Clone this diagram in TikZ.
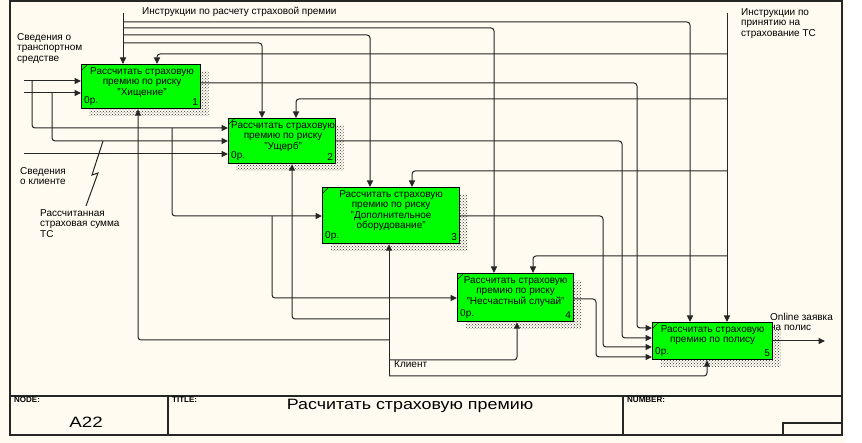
\documentclass[tikz,border=0pt]{standalone}
\usepackage{fontspec}
\setmainfont{Liberation Sans}
\usetikzlibrary{arrows.meta,calc,patterns,shadows}
\definecolor{paper}{RGB}{255,251,240}
\definecolor{idefgreen}{RGB}{0,255,0}
\begin{document}
\begin{tikzpicture}[x=1pt,y=-1pt,
  font=\fontsize{10}{10.5}\selectfont,
  ln/.style={line width=1pt, draw=black!85},
  arr/.style={ln, -{Triangle[length=6.5pt,width=6pt]}},
  rc/.style={rounded corners=3pt},
  box/.style={draw=black, line width=1.2pt, fill=idefgreen, inner sep=0pt, anchor=north west,
    general shadow={shadow xshift=8pt, shadow yshift=-7pt, pattern=crosshatch dots, pattern color=black!80}},
  btext/.style={anchor=north, align=center, inner sep=0pt},
  lbl/.style={align=left, inner sep=0pt, anchor=north west},
  small/.style={font=\fontsize{8}{9}\selectfont\bfseries, inner sep=0pt, anchor=west},
  big/.style={font=\fontsize{15}{16}\selectfont, inner sep=0pt}
]
\useasboundingbox (0,0) rectangle (862,443);
\fill[white] (0,0) rectangle (862,443);
\fill[paper] (0,0) rectangle (845,443);
% frame
\draw[line width=1.2pt, black!85] (10,1) rectangle (842,435);
\draw[line width=1.2pt, black!85] (10,396) -- (842,396);
\draw[line width=1.2pt, black!85] (168,396) -- (168,435);
\draw[line width=1.2pt, black!85] (623,396) -- (623,435);
\draw[line width=1.2pt, black!85] (783,423) rectangle (842,435);
\node[small] (tnode) at (14,400) {NODE:};
\node[big] (tnum) at (86,422) {\scalebox{1.25}[1]{A22}};
\node[small] (ttitle) at (172,400) {TITLE:};
\node[big] (tname) at (410,406) {\scalebox{1.19}[1]{Расчитать страховую премию}};
\node[small] (tnumber) at (627,400) {NUMBER:};

% outside labels
\node[anchor=west, inner sep=0pt] (lctlA) at (142,12) {Инструкции по расчету страховой премии};
\node[lbl] (lctlB) at (741,8) {Инструкции по\\принятию на\\страхование ТС};
\node[lbl] (lin1) at (17,33) {Сведения о\\транспортном\\средстве};
\node[lbl] (lin3) at (20,167) {Сведения\\о клиенте};
\node[lbl] (lin2) at (40,209) {Рассчитанная\\страховая сумма\\ТС};
\node[lbl] (lout) at (770,313) {Online заявка\\на полис};
\node[anchor=west, inner sep=0pt] (lmech) at (394,364) {Клиент};

% boxes
\node[box, minimum width=119pt, minimum height=44pt] (b1) at (81,64) {};
\node[box, minimum width=107pt, minimum height=45pt] (b2) at (228,118) {};
\node[box, minimum width=137pt, minimum height=56pt] (b3) at (322,187) {};
\node[box, minimum width=116pt, minimum height=48pt] (b4) at (457,273) {};
\node[box, minimum width=120pt, minimum height=37pt] (b5) at (652,322) {};

\node[btext] (t1) at ($(b1.north)+(1,3)$) {Рассчитать страховую\\премию по риску\\"Хищение"};
\node[btext] (t2) at ($(b2.north)+(1,3)$) {Рассчитать страховую\\премию по риску\\"Ущерб"};
\node[btext] (t3) at ($(b3.north)+(0,3)$) {Рассчитать страховую\\премию по риску\\"Дополнительное\\оборудование"};
\node[btext] (t4) at ($(b4.north)+(0,3)$) {Рассчитать страховую\\премию по риску\\"Несчастный случай"};
\node[btext] (t5) at ($(b5.north)+(0,3)$) {Рассчитать страховую\\премию по полису};

\foreach \b/\n in {b1/1,b2/2,b3/3,b4/4,b5/5}{
  \node[anchor=south west, inner sep=0pt] at ($(\b.south west)+(3,-3)$) {0р.};
  \node[anchor=south east, inner sep=0pt] at ($(\b.south east)+(-3,-3)$) {\n};
  \draw[line width=0.6pt] ($(\b.north west)+(1,6)$) -- ($(\b.north west)+(6,1)$);
}

% controls, source A
\coordinate (ctlA) at (123,13);
\coordinate (k5) at (690,22);
\coordinate (k4) at (494,28);
\coordinate (k3) at (370,35);
\coordinate (k2) at (262,43);
\draw[arr] (ctlA) -- (ctlA |- b1.north);
\draw[arr,rc] (ctlA |- k5) -- (k5) -- (k5 |- b5.north);
\draw[arr,rc] (ctlA |- k4) -- (k4) -- (k4 |- b4.north);
\draw[arr,rc] (ctlA |- k3) -- (k3) -- (k3 |- b3.north);
\draw[arr,rc] (ctlA |- k2) -- (k2) -- (k2 |- b2.north);

% controls, source B
\coordinate (ctlB) at (727,13);
\coordinate (m1) at (157,54);
\coordinate (m2) at (296,99);
\coordinate (m3) at (412,171);
\coordinate (m4) at (533,256);
\draw[arr] (ctlB) -- (ctlB |- b5.north);
\draw[arr,rc] (ctlB |- m1) -- (m1) -- (m1 |- b1.north);
\draw[arr,rc] (ctlB |- m2) -- (m2) -- (m2 |- b2.north);
\draw[arr,rc] (ctlB |- m3) -- (m3) -- (m3 |- b3.north);
\draw[arr,rc] (ctlB |- m4) -- (m4) -- (m4 |- b4.north);

% inputs
\coordinate (in1) at (24,81);
\coordinate (in2) at (24,93);
\coordinate (in3) at (24,154);
\coordinate (j1) at (32,128);
\coordinate (j2) at (52,141);
\coordinate (j3) at (172,216);
\coordinate (j4) at (272,298);
\draw[arr] (in1) -- (in1 -| b1.west);
\draw[arr] (in2) -- (in2 -| b1.west);
\draw[arr] (in3) -- (in3 -| b2.west);
\draw[arr,rc] (j1 |- in1) -- (j1) -- (j1 -| b2.west);
\draw[arr,rc] (j2 |- in2) -- (j2) -- (j2 -| b2.west);
\draw[arr,rc] (j3 |- j1) -- (j3) -- (j3 -| b3.west);
\draw[arr,rc] (j4 |- j3) -- (j4) -- (j4 -| b4.west);
\coordinate (sq) at (103,141);
\draw[ln] (sq) -- (92,175) -- (98,173) -- (86,206);

% outputs to box 5
\coordinate (o1) at (637,83);
\coordinate (o2) at (622,141);
\coordinate (o3) at (603,216);
\coordinate (o4) at (596,299);
\coordinate (p51) at ($(b5.north west)+(0,6)$);
\coordinate (p52) at ($(b5.north west)+(0,16)$);
\coordinate (p53) at ($(b5.north west)+(0,25)$);
\coordinate (p54) at ($(b5.north west)+(0,35)$);
\draw[arr,rc] (o1 -| b1.east) -- (o1) |- (p51);
\draw[arr,rc] (o2 -| b2.east) -- (o2) |- (p52);
\draw[arr,rc] (o3 -| b3.east) -- (o3) |- (p53);
\draw[arr,rc] (o4 -| b4.east) -- (o4) |- (p54);
\coordinate (out5) at (825,341);
\draw[arr] (out5 -| b5.east) -- (out5);

% mechanisms
\coordinate (mc) at (389,376);
\coordinate (q1) at (138,340);
\coordinate (q2) at (292,319);
\coordinate (q4) at (517,360);
\coordinate (q5) at (707,376);
\draw[arr] (mc) -- (mc |- b3.south);
\draw[arr,rc] (mc |- q1) -- (q1) -- (q1 |- b1.south);
\draw[arr,rc] (mc |- q2) -- (q2) -- (q2 |- b2.south);
\draw[arr,rc] (mc |- q4) -- (q4) -- (q4 |- b4.south);
\draw[arr,rc] (mc) -- (q5) -- (q5 |- b5.south);
\end{tikzpicture}
\end{document}
